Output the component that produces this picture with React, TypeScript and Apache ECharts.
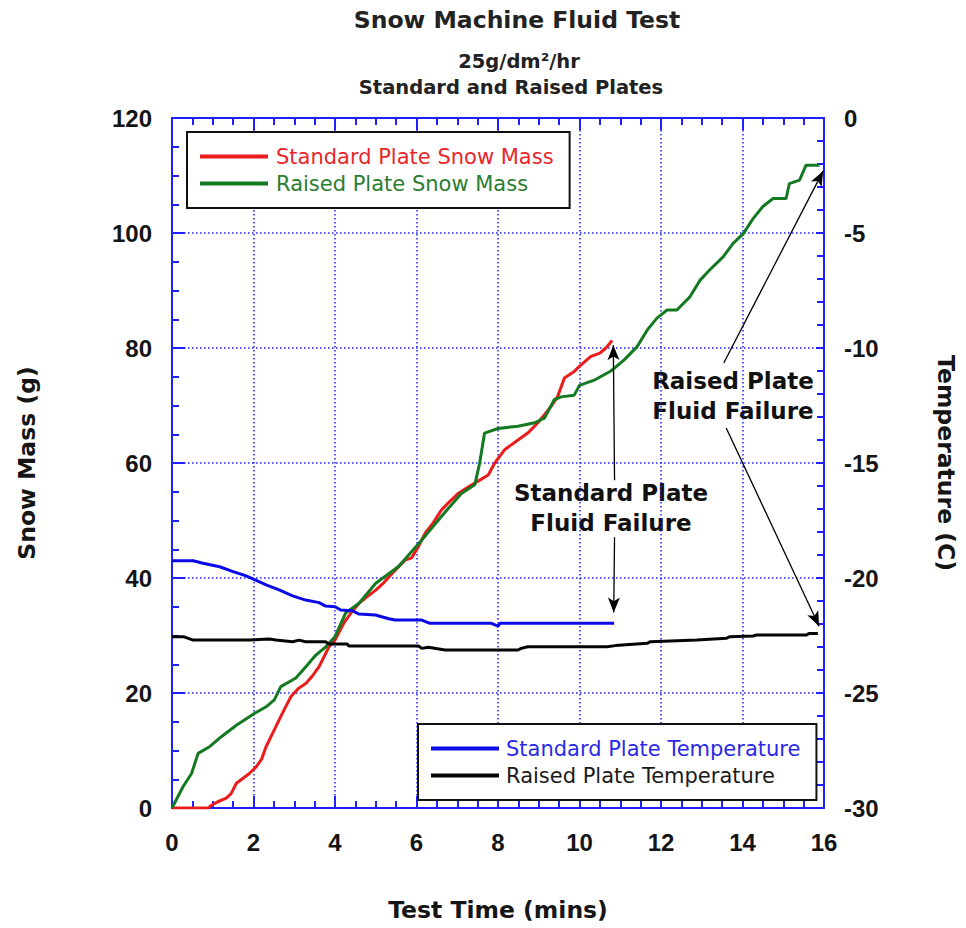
import React, { useEffect, useRef } from 'react';
import * as echarts from 'echarts';

// Standard Plate Snow Mass (g) vs test time (mins)
const stdMassTime = [0, 0.9, 0.93, 1.1, 1.33, 1.45, 1.58, 1.9, 2.07, 2.2, 2.31, 2.51, 2.71, 2.92, 3.1, 3.29, 3.45, 3.61, 3.85, 4.0, 4.22, 4.4, 4.59, 4.8, 5.0, 5.2, 5.4, 5.72, 5.88, 6.05, 6.21, 6.4, 6.61, 6.8, 7.02, 7.2, 7.43, 7.76, 7.92, 8.16, 8.49, 8.73, 8.98, 9.3, 9.46, 9.63, 9.87, 9.95, 10.27, 10.5, 10.65, 10.8];
const stdMassValue = [0, 0, 0.3, 1.0, 1.7, 2.5, 4.3, 6.0, 7.2, 8.5, 10.7, 13.6, 16.5, 19.4, 20.8, 21.7, 23.0, 24.6, 28.0, 29.2, 32.2, 34.0, 35.6, 36.8, 37.9, 39.2, 40.8, 43.1, 43.5, 45.5, 47.8, 49.5, 51.8, 53.2, 54.7, 55.5, 56.5, 57.9, 60.0, 62.3, 64.0, 65.2, 67.0, 69.8, 71.5, 74.8, 75.9, 76.5, 78.5, 79.1, 80.0, 81.3];

// Raised Plate Snow Mass (g)
const rsdMassTime = [0, 0.27, 0.48, 0.64, 0.93, 1.21, 1.58, 2.01, 2.31, 2.51, 2.67, 3.04, 3.29, 3.53, 3.77, 4.0, 4.26, 4.59, 5.0, 5.56, 6.13, 6.61, 7.1, 7.43, 7.55, 7.67, 8.0, 8.49, 8.9, 9.14, 9.38, 9.55, 9.87, 10.0, 10.36, 10.77, 11.09, 11.41, 11.66, 11.9, 12.15, 12.39, 12.71, 12.96, 13.2, 13.53, 13.77, 14.02, 14.26, 14.5, 14.75, 15.07, 15.15, 15.4, 15.56, 15.89];
const rsdMassValue = [0, 3.7, 6.0, 9.5, 10.7, 12.4, 14.4, 16.4, 17.6, 18.8, 21.1, 22.6, 24.6, 26.6, 28.0, 29.8, 33.9, 35.6, 39.1, 42.0, 46.6, 50.7, 54.7, 56.2, 60.0, 65.2, 66.0, 66.4, 67.0, 67.8, 71.0, 71.5, 71.8, 73.5, 74.4, 76.0, 77.9, 80.2, 83.1, 85.2, 86.6, 86.6, 88.9, 91.8, 93.6, 95.9, 98.2, 99.9, 102.5, 104.6, 106.0, 106.0, 108.6, 109.2, 111.8, 111.8];

// Standard Plate Temperature (C)
const stdTempTime = [0, 0.52, 0.76, 1.17, 1.5, 1.82, 2.01, 2.31, 2.63, 2.96, 3.28, 3.61, 3.77, 4.0, 4.14, 4.42, 4.59, 4.99, 5.32, 5.48, 6.13, 6.33, 7.84, 8.0, 8.05, 10.85];
const stdTempValue = [-19.25, -19.25, -19.36, -19.51, -19.72, -19.91, -20.06, -20.3, -20.52, -20.78, -20.96, -21.07, -21.22, -21.25, -21.39, -21.42, -21.57, -21.61, -21.77, -21.83, -21.83, -21.97, -21.97, -22.09, -21.97, -21.97];

// Raised Plate Temperature (C)
const rsdTempTime = [0, 0.28, 0.52, 1.9, 2.39, 2.55, 2.96, 3.12, 3.28, 3.77, 3.85, 4.3, 4.34, 6.05, 6.13, 6.29, 6.7, 8.49, 8.57, 8.73, 10.68, 10.88, 11.66, 11.74, 12.88, 13.61, 13.69, 14.26, 14.34, 15.56, 15.64, 15.85];
const rsdTempValue = [-22.55, -22.55, -22.7, -22.7, -22.65, -22.7, -22.77, -22.7, -22.77, -22.77, -22.87, -22.87, -22.96, -22.96, -23.06, -23.01, -23.13, -23.13, -23.06, -22.99, -22.99, -22.94, -22.84, -22.77, -22.7, -22.62, -22.55, -22.52, -22.48, -22.48, -22.41, -22.41];

// Annotation arrows [fromTime, fromMass, toTime, toMass] (left-axis units)
const arrowStdUp = [10.86, 57, 10.83, 80.5];
const arrowStdDown = [10.86, 47.1, 10.84, 34.0];
const arrowRsdUp = [13.54, 77.4, 15.98, 110.8];
const arrowRsdDown = [13.6, 66.1, 15.88, 31.6];

const zip = (t: number[], v: number[]) => t.map((x, i) => [x, v[i]]);

const BLUE_AXIS = '#1f1fff';
const RED = '#ea1c1c';
const GREEN = '#137a22';
const BLUE = '#0a0ae6';
const BLACK = '#050505';
const TEXT = '#151515';
const SANS = '"DejaVu Sans", sans-serif';
const NUM = '"Liberation Sans", Arial, sans-serif';

export default function App() {
  const ref = useRef<HTMLDivElement>(null);
  useEffect(() => {
    document.body.style.margin = '0';
    if (!ref.current) return;
    const chart = echarts.init(ref.current, undefined, { renderer: 'svg' });

    const axisLine = { show: true, onZero: false, lineStyle: { color: BLUE_AXIS, width: 2 } };
    const split = { show: true, lineStyle: { color: BLUE_AXIS, width: 1.5, type: [1.5, 2.5] as any } };
    const labelStyle = { fontSize: 24, fontWeight: 'bold' as const, fontFamily: NUM, color: TEXT };
    const nameStyle = { fontSize: 23.5, fontWeight: 'bold' as const, fontFamily: SANS, color: TEXT };

    const arrow = (a: number[]) => [{ coord: [a[0], a[1]] }, { coord: [a[2], a[3]] }];

    chart.setOption({
      animation: false,
      grid: { left: 172, right: 138, top: 118, bottom: 120, containLabel: false },
      xAxis: [
        {
          type: 'value', min: 0, max: 16, interval: 2, position: 'bottom',
          name: 'Test Time (mins)', nameLocation: 'middle', nameGap: 90, nameTextStyle: nameStyle,
          axisLine, axisTick: { show: true, inside: true, length: 12, lineStyle: { color: BLUE_AXIS, width: 2 } },
          minorTick: { show: true, splitNumber: 4, length: 7, lineStyle: { color: BLUE_AXIS, width: 2 } },
          splitLine: split, axisLabel: { ...labelStyle, margin: 22 },
        },
        {
          type: 'value', min: 0, max: 16, interval: 2, position: 'top',
          axisLine, axisTick: { show: true, inside: true, length: 12, lineStyle: { color: BLUE_AXIS, width: 2 } },
          minorTick: { show: true, splitNumber: 4, length: 7, lineStyle: { color: BLUE_AXIS, width: 2 } },
          splitLine: { show: false }, axisLabel: { show: false },
        },
      ],
      yAxis: [
        {
          type: 'value', min: 0, max: 120, interval: 20, position: 'left',
          name: 'Snow Mass (g)', nameLocation: 'middle', nameGap: 133, nameRotate: 90, nameTextStyle: nameStyle,
          axisLine, axisTick: { show: true, inside: true, length: 13, lineStyle: { color: BLUE_AXIS, width: 2 } },
          minorTick: { show: true, splitNumber: 4, length: 7, lineStyle: { color: BLUE_AXIS, width: 2 } },
          splitLine: split, axisLabel: { ...labelStyle, margin: 20 },
        },
        {
          type: 'value', min: -30, max: 0, interval: 5, position: 'right',
          name: 'Temperature (C)', nameLocation: 'middle', nameGap: 110, nameRotate: -90, nameTextStyle: nameStyle,
          axisLine, axisTick: { show: true, inside: true, length: 8, lineStyle: { color: BLUE_AXIS, width: 2 } },
          minorTick: { show: true, splitNumber: 5, length: 7, lineStyle: { color: BLUE_AXIS, width: 2 } },
          splitLine: { show: false }, axisLabel: { ...labelStyle, margin: 20 },
        },
      ],
      legend: [
        {
          orient: 'vertical', left: 187, top: 132, padding: [14, 16, 14, 13], itemGap: 6,
          itemWidth: 68, itemHeight: 4, icon: 'rect', selectedMode: false,
          backgroundColor: '#fff', borderColor: '#111', borderWidth: 2,
          textStyle: { fontSize: 21, fontFamily: SANS, padding: [0, 0, 0, 3] },
          data: [
            { name: 'Standard Plate Snow Mass', textStyle: { color: '#e8262a' } },
            { name: 'Raised Plate Snow Mass', textStyle: { color: '#2b7d32' } },
          ],
        },
        {
          orient: 'vertical', left: 418, top: 724, padding: [14, 16, 14, 13], itemGap: 6,
          itemWidth: 68, itemHeight: 4, icon: 'rect', selectedMode: false,
          backgroundColor: '#fff', borderColor: '#111', borderWidth: 2,
          textStyle: { fontSize: 21, fontFamily: SANS, padding: [0, 0, 0, 2] },
          data: [
            { name: 'Standard Plate Temperature', textStyle: { color: '#2a2ae6' } },
            { name: 'Raised Plate Temperature', textStyle: { color: '#1a1a1a' } },
          ],
        },
      ],
      graphic: [
        { type: 'text', x: 517, y: 20, style: { text: 'Snow Machine Fluid Test', fontSize: 23.5, fontWeight: 'bold', fontFamily: SANS, fill: '#222', align: 'center', verticalAlign: 'middle' } },
        { type: 'text', x: 519, y: 61, style: { text: '25g/dm²/hr', fontSize: 19.5, fontWeight: 'bold', fontFamily: SANS, fill: '#222', align: 'center', verticalAlign: 'middle' } },
        { type: 'text', x: 511, y: 87, style: { text: 'Standard and Raised Plates', fontSize: 19.5, fontWeight: 'bold', fontFamily: SANS, fill: '#222', align: 'center', verticalAlign: 'middle' } },
        { type: 'text', x: 611, y: 508, style: { text: 'Standard Plate\nFluid Failure', fontSize: 23, lineHeight: 30, fontWeight: 'bold', fontFamily: SANS, fill: '#111', align: 'center', verticalAlign: 'middle' } },
        { type: 'text', x: 733, y: 396, style: { text: 'Raised Plate\nFluid Failure', fontSize: 23, lineHeight: 30, fontWeight: 'bold', fontFamily: SANS, fill: '#111', align: 'center', verticalAlign: 'middle' } },
      ],
      series: [
        {
          name: 'Standard Plate Snow Mass', type: 'line', xAxisIndex: 0, yAxisIndex: 0,
          data: zip(stdMassTime, stdMassValue), showSymbol: false, symbol: 'none',
          lineStyle: { color: RED, width: 3 }, itemStyle: { color: RED }, z: 3,
        },
        {
          name: 'Raised Plate Snow Mass', type: 'line', xAxisIndex: 0, yAxisIndex: 0,
          data: zip(rsdMassTime, rsdMassValue), showSymbol: false, symbol: 'none',
          lineStyle: { color: GREEN, width: 3 }, itemStyle: { color: GREEN }, z: 3,
          markLine: {
            silent: true, symbol: ['none', 'arrow'], symbolSize: [9, 15], animation: false,
            label: { show: false }, emphasis: { disabled: true },
            lineStyle: { color: '#000', width: 1.3, type: 'solid' },
            data: [arrow(arrowStdUp), arrow(arrowStdDown), arrow(arrowRsdUp), arrow(arrowRsdDown)],
          },
        },
        {
          name: 'Standard Plate Temperature', type: 'line', xAxisIndex: 0, yAxisIndex: 1,
          data: zip(stdTempTime, stdTempValue), showSymbol: false, symbol: 'none',
          lineStyle: { color: BLUE, width: 3 }, itemStyle: { color: BLUE }, z: 3,
        },
        {
          name: 'Raised Plate Temperature', type: 'line', xAxisIndex: 0, yAxisIndex: 1,
          data: zip(rsdTempTime, rsdTempValue), showSymbol: false, symbol: 'none',
          lineStyle: { color: BLACK, width: 3 }, itemStyle: { color: BLACK }, z: 3,
        },
      ],
    });
    return () => chart.dispose();
  }, []);
  return <div ref={ref} style={{ width: 966, height: 928, background: '#fff' }} />;
}
